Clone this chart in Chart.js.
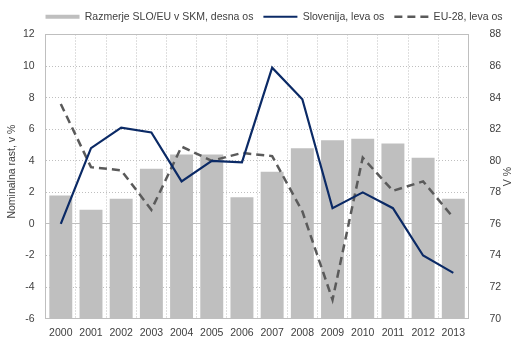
<!DOCTYPE html>
<html><head><meta charset="utf-8">
<script src="https://cdn.jsdelivr.net/npm/chart.js@4/dist/chart.umd.min.js"></script>
<style>html,body{margin:0;padding:0;background:#fff;}#wrap{width:518px;height:351px;}</style>
</head><body><div id="wrap"><canvas id="c" width="518" height="351"></canvas></div>
<script>
const years = ['2000','2001','2002','2003','2004','2005','2006','2007','2008','2009','2010','2011','2012','2013'];
const ratioSloEu = [77.8, 76.9, 77.6, 79.5, 80.4, 80.4, 77.7, 79.3, 80.8, 81.3, 81.4, 81.1, 80.2, 77.6];
const slovenia = [0.0, 4.8, 6.1, 5.8, 2.7, 4.0, 3.9, 9.9, 7.9, 1.0, 2.0, 1.0, -2.0, -3.1];
const eu28 = [7.6, 3.6, 3.4, 0.9, 4.9, 4.0, 4.5, 4.3, 0.8, -4.8, 4.2, 2.1, 2.7, 0.4];
const seriesNames = ['Razmerje SLO/EU v SKM, desna os', 'Slovenija, leva os', 'EU-28, leva os'];
const leftAxis = {min: -6, max: 12, step: 2, title: 'Nominalna rast, v %'};
const rightAxis = {min: 70, max: 88, step: 2, title: 'V %'};

const FONT = 'Liberation Sans';
const TXT = '#404040';
const GRID = '#BFBFBF';
const BAR = '#BFBFBF';
const NAVY = '#0B2A66';
const DASHC = '#5A5A5A';

const legendTweak = {
  id: 'legendTweak',
  beforeLayout(chart) {
    const lg = chart.legend;
    if (lg && !lg._patched) {
      const f = lg.fit.bind(lg);
      lg.fit = function () { f(); this.height += 4; };
      lg._patched = true;
    }
  },
  afterLayout(chart) {
    const lg = chart.legend;
    if (lg) { lg.top += 1.5; lg.bottom += 1.5; lg.left += 15; lg.right += 15; }
  }
};

const axisTitles = {
  id: 'axisTitles',
  afterDraw(chart) {
    const ctx = chart.ctx, a = chart.chartArea;
    ctx.save();
    ctx.fillStyle = TXT;
    ctx.font = '10.5px "' + FONT + '"';
    ctx.textAlign = 'center';
    ctx.textBaseline = 'middle';
    ctx.save();
    ctx.translate(a.left - 34, (a.top + a.bottom) / 2 - 5);
    ctx.rotate(-Math.PI / 2);
    ctx.fillText(leftAxis.title, 0, 0);
    ctx.restore();
    ctx.save();
    ctx.translate(a.right + 40, (a.top + a.bottom) / 2);
    ctx.rotate(-Math.PI / 2);
    ctx.fillText(rightAxis.title, 0, 0);
    ctx.restore();
    ctx.restore();
  }
};

const solidAt = (vals) => (c) => (c.tick && vals.includes(c.tick.value)) ? [] : [1, 2];

new Chart(document.getElementById('c'), {
  type: 'bar',
  data: {
    labels: years,
    datasets: [
      {type: 'bar', label: seriesNames[0], data: ratioSloEu, yAxisID: 'y1', backgroundColor: BAR, borderWidth: 0,
       barPercentage: 0.76, categoryPercentage: 1.0, order: 2},
      {type: 'line', label: seriesNames[1], data: slovenia, yAxisID: 'y', borderColor: NAVY, borderWidth: 2.2,
       pointRadius: 0, tension: 0, fill: false, order: 0},
      {type: 'line', label: seriesNames[2], data: eu28, yAxisID: 'y', borderColor: DASHC, borderWidth: 2.5,
       borderDash: [8, 5], pointRadius: 0, tension: 0, fill: false, order: 1}
    ]
  },
  options: {
    responsive: false,
    animation: false,
    devicePixelRatio: 1,
    layout: {padding: {left: 0, right: 0, top: 0, bottom: 0}},
    plugins: {
      tooltip: {enabled: false},
      legend: {
        position: 'top',
        labels: {
          font: {family: FONT, size: 10.5},
          color: TXT,
          usePointStyle: true,
          pointStyleWidth: 34,
          boxHeight: 4,
          padding: 10,
          sort: (a, b) => a.datasetIndex - b.datasetIndex,
          generateLabels: (chart) => chart.data.datasets.map((ds, i) => ({
            text: ds.label,
            fillStyle: ds.type === 'bar' ? BAR : 'rgba(0,0,0,0)',
            strokeStyle: ds.type === 'bar' ? BAR : ds.borderColor,
            lineWidth: ds.type === 'bar' ? 0 : ds.borderWidth,
            lineDash: ds.borderDash || [],
            pointStyle: ds.type === 'bar' ? 'rect' : 'line',
            fontColor: TXT,
            hidden: false,
            datasetIndex: i
          }))
        }
      }
    },
    scales: {
      x: {
        grid: {offset: true, color: GRID, lineWidth: 1, drawTicks: false},
        border: {display: true, color: GRID, dash: (c) => (c.index === 0 || c.index === years.length) ? [] : [1, 2]},
        ticks: {font: {family: FONT, size: 10.5}, color: TXT, padding: 8, maxRotation: 0, autoSkip: false},
        afterFit: (s) => { s.height = 32.3; }
      },
      y: {
        position: 'left',
        min: leftAxis.min, max: leftAxis.max,
        grid: {color: GRID, lineWidth: 1, drawTicks: false},
        border: {display: true, color: GRID, dash: solidAt([0, leftAxis.max, leftAxis.min])},
        ticks: {stepSize: leftAxis.step, font: {family: FONT, size: 10.5}, color: TXT, padding: 11},
        afterFit: (s) => { s.width = 45.7; }
      },
      y1: {
        position: 'right',
        min: rightAxis.min, max: rightAxis.max,
        grid: {display: false, drawTicks: false},
        border: {display: true, color: GRID},
        ticks: {stepSize: rightAxis.step, font: {family: FONT, size: 10.5}, color: TXT, padding: 21},
        afterFit: (s) => { s.width = 49.6; }
      }
    }
  },
  plugins: [legendTweak, axisTitles]
});
</script>
</body></html>
